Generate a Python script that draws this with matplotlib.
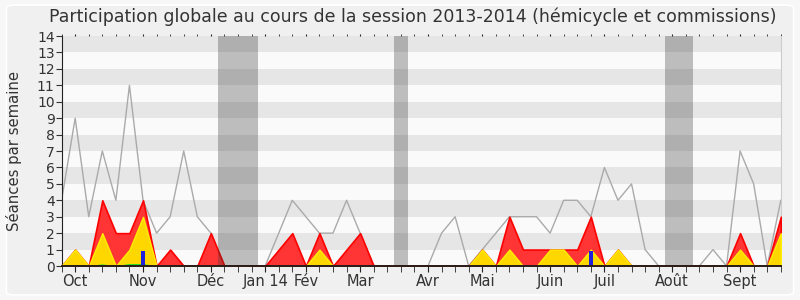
import numpy as np
import matplotlib
matplotlib.use('Agg')
import matplotlib.pyplot as plt
from matplotlib.patches import FancyBboxPatch

# weekly values, session 2013-2014 (week 0 .. 53)
total_seances = [4, 9, 3, 7, 4, 11, 4, 2, 3, 7, 3, 2, 0, 0, 0, 0, 2, 4, 3, 2,
                 2, 4, 2, 0, 0, 0, 0, 0, 2, 3, 0, 1, 2, 3, 3, 3, 2, 4, 4, 3,
                 6, 4, 5, 1, 0, 0, 0, 0, 1, 0, 7, 5, 0, 4]
presences = [0, 1, 0, 4, 2, 2, 4, 0, 1, 0, 0, 2, 0, 0, 0, 0, 1, 2, 0, 2,
             0, 1, 2, 0, 0, 0, 0, 0, 0, 0, 0, 1, 0, 3, 1, 1, 1, 1, 1, 3,
             0, 1, 0, 0, 0, 0, 0, 0, 0, 0, 2, 0, 0, 3]
hemicycle = [0, 1, 0, 2, 0, 1, 3, 0, 0, 0, 0, 0, 0, 0, 0, 0, 0, 0, 0, 1,
             0, 0, 0, 0, 0, 0, 0, 0, 0, 0, 0, 1, 0, 1, 0, 0, 1, 1, 0, 1,
             0, 1, 0, 0, 0, 0, 0, 0, 0, 0, 1, 0, 0, 2]
interventions = [0, 0, 0, 0.1, 0, 0.12, 0.12, 0, 0, 0, 0, 0, 0, 0, 0, 0, 0, 0, 0, 0,
                 0, 0, 0, 0, 0, 0, 0, 0, 0, 0, 0, 0, 0, 0, 0, 0, 0.05, 0.05, 0, 0,
                 0, 0, 0, 0, 0, 0, 0, 0, 0, 0, 0, 0, 0, 0]
questions_weeks = [6, 39]
questions_vals = [0.9, 0.9]
vacances = [(11.5, 14.5), (24.5, 25.5), (44.5, 46.5)]
mois_pos = [1, 6, 11, 15, 18, 22, 27, 31, 36, 40, 45, 50]
mois_labels = ['Oct', 'Nov', 'Déc', 'Jan 14', 'Fév', 'Mar', 'Avr', 'Mai',
               'Juin', 'Juil', 'Août', 'Sept']

weeks = np.arange(len(total_seances))

fig = plt.figure(figsize=(8, 3), dpi=100, facecolor='#f7f7f7')
fig.patches.append(FancyBboxPatch((0.008, 0.017), 0.984, 0.966,
                                  boxstyle='round,pad=0,rounding_size=0.01',
                                  transform=fig.transFigure, facecolor='#f0f0f0',
                                  edgecolor='white', linewidth=1.2, zorder=-10))
ax = fig.add_axes([0.077, 0.1133, 0.899, 0.7667])
ax.set_facecolor('#fafafa')

# alternating horizontal bands
for y in range(1, 14, 2):
    ax.axhspan(y, y + 1, color='#e6e6e6', lw=0, zorder=0)

ax.plot(weeks, total_seances, color='#aaaaaa', lw=1, zorder=2)
ax.fill_between(weeks, 0, presences, facecolor='#ff3535', edgecolor='#ff0000', lw=1.2, zorder=3)
ax.fill_between(weeks, 0, hemicycle, facecolor='#ffd700', edgecolor='#ffee00', lw=1, zorder=4)
ax.fill_between(weeks, 0, interventions, facecolor='#22dd22', lw=0, zorder=5)
ax.bar(questions_weeks, questions_vals, width=0.33, color='#2020dd', zorder=6)

for a, b in vacances:
    ax.axvspan(a, b, color='#323232', alpha=0.3, lw=0, zorder=7)

ax.set_xlim(0, 53)
ax.set_ylim(0, 14)
ax.set_yticks(range(15))
ax.tick_params(axis='y', labelsize=10, length=4, colors='#333333', pad=1)
ax.set_xticks(weeks, minor=True)
ax.set_xticks(mois_pos)
ax.set_xticklabels(mois_labels, fontsize=10.5, color='#333333')
ax.tick_params(axis='x', which='both', length=4, color='#222222', pad=2,
               top=True, labeltop=False)
# tiny dots for the top ticks
for t in ax.xaxis.get_major_ticks() + ax.xaxis.get_minor_ticks():
    t.tick2line.set_markersize(1.5)
    t.tick2line.set_color('#444444')
ax.spines['top'].set_visible(False)
ax.spines['right'].set_color('#cccccc')
ax.spines['left'].set_color('#222222')
ax.spines['bottom'].set_color('#2a1a1a')
ax.spines['bottom'].set_linewidth(1.4)
ax.spines['bottom'].set_zorder(10)
ax.set_ylabel('Séances par semaine', fontsize=10.7, color='#333333', labelpad=11)
fig.suptitle('Participation globale au cours de la session 2013-2014 (hémicycle et commissions)',
             fontsize=12.5, color='#333333', x=0.516, y=0.975)

plt.savefig('out.png', dpi=100, facecolor=fig.get_facecolor())
